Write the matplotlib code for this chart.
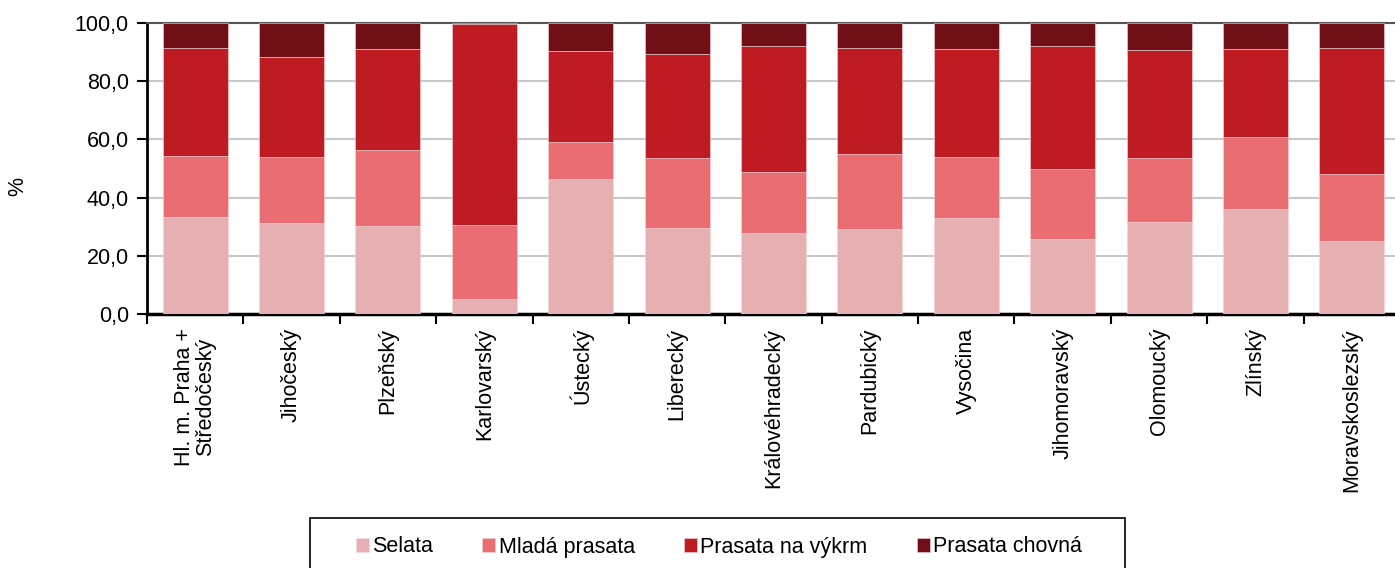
import numpy as np
import matplotlib
matplotlib.use("Agg")
import matplotlib.pyplot as plt
from matplotlib.patches import Rectangle

plt.rcParams['font.family'] = ['Liberation Sans', 'DejaVu Sans']

# kraje
kraje = ["Hl. m. Praha +\nStředočeský", "Jihočeský", "Plzeňský", "Karlovarský", "Ústecký",
         "Liberecký", "Královéhradecký", "Pardubický", "Vysočina", "Jihomoravský",
         "Olomoucký", "Zlínský", "Moravskoslezský"]

# podily kategorii v %
selata = [33.3, 31.3, 30.2, 5.3, 46.4, 29.7, 27.8, 29.1, 33.1, 25.9, 31.7, 36.1, 25.2]
mlada = [21.0, 22.8, 26.0, 25.3, 12.7, 23.8, 21.0, 25.9, 21.0, 23.9, 22.0, 24.7, 23.0]
vykrm = [37.2, 34.3, 35.0, 68.9, 31.2, 35.7, 43.2, 36.5, 36.9, 42.2, 36.9, 30.2, 43.1]
chovna = [8.5, 11.6, 8.8, 0.5, 9.7, 10.8, 8.0, 8.5, 9.0, 8.0, 9.4, 9.0, 8.7]

serie = ["Selata", "Mladá prasata", "Prasata na výkrm", "Prasata chovná"]
barvy = ["#E6AFB2", "#EA6D73", "#BE1B23", "#701016"]

fig = plt.figure(figsize=(13.95, 5.68), dpi=100)
ax = fig.add_axes([147/1395, (568-314)/568, (1400-147)/1395, 291/568])

x = np.arange(len(kraje))
spodek = np.zeros(len(kraje))
for hodnoty, jmeno, barva in zip([selata, mlada, vykrm, chovna], serie, barvy):
    ax.bar(x, hodnoty, 0.675, bottom=spodek, color=barva, label=jmeno,
           edgecolor="#f3d6d8", linewidth=0.4, zorder=3)
    spodek += np.array(hodnoty)

ax.set_xlim(-0.5, len(kraje) - 0.5)
ax.set_ylim(0, 100)
ax.set_yticks(np.arange(0, 101, 20))
ax.set_yticklabels([f"{v:.1f}".replace(".", ",") for v in np.arange(0, 101, 20)], fontsize=15.5)
ax.yaxis.grid(True, color="#c8c8c8", linewidth=1.5, zorder=0)
ax.set_axisbelow(True)

ax.set_xticks(x)
ax.set_xticklabels(kraje, rotation=90, fontsize=15.5, va="top", ha="center", linespacing=1.0)
ax.set_xticks(np.arange(-0.5, len(kraje), 1), minor=True)
ax.tick_params(axis="x", which="major", length=0, pad=10)
ax.tick_params(axis="x", which="minor", length=7, width=1.5, direction="out")
ax.tick_params(axis="y", length=7, width=1.5, direction="out", pad=6)

ax.spines["right"].set_visible(False)
ax.spines["top"].set_color("#555555")
ax.spines["top"].set_linewidth(1.5)
ax.spines["left"].set_linewidth(2)
ax.spines["bottom"].set_linewidth(2.5)

fig.text(18/1395, 1 - 187/568, "%", rotation=90, fontsize=15.5, ha="center", va="center")

# ramecek legendy
fig.patches.append(Rectangle((310/1395, 1 - 582/568), 815/1395, 64/568, transform=fig.transFigure,
                             facecolor="none", edgecolor="black", linewidth=1.2))
leg = fig.legend(loc="center", bbox_to_anchor=(719/1395, 1 - 547/568), ncol=4, fontsize=15.5,
                 frameon=False, handlelength=0.6, handleheight=0.6, handletextpad=0.15,
                 columnspacing=2.3, borderaxespad=0)

fig.savefig("out.png", dpi=100)
